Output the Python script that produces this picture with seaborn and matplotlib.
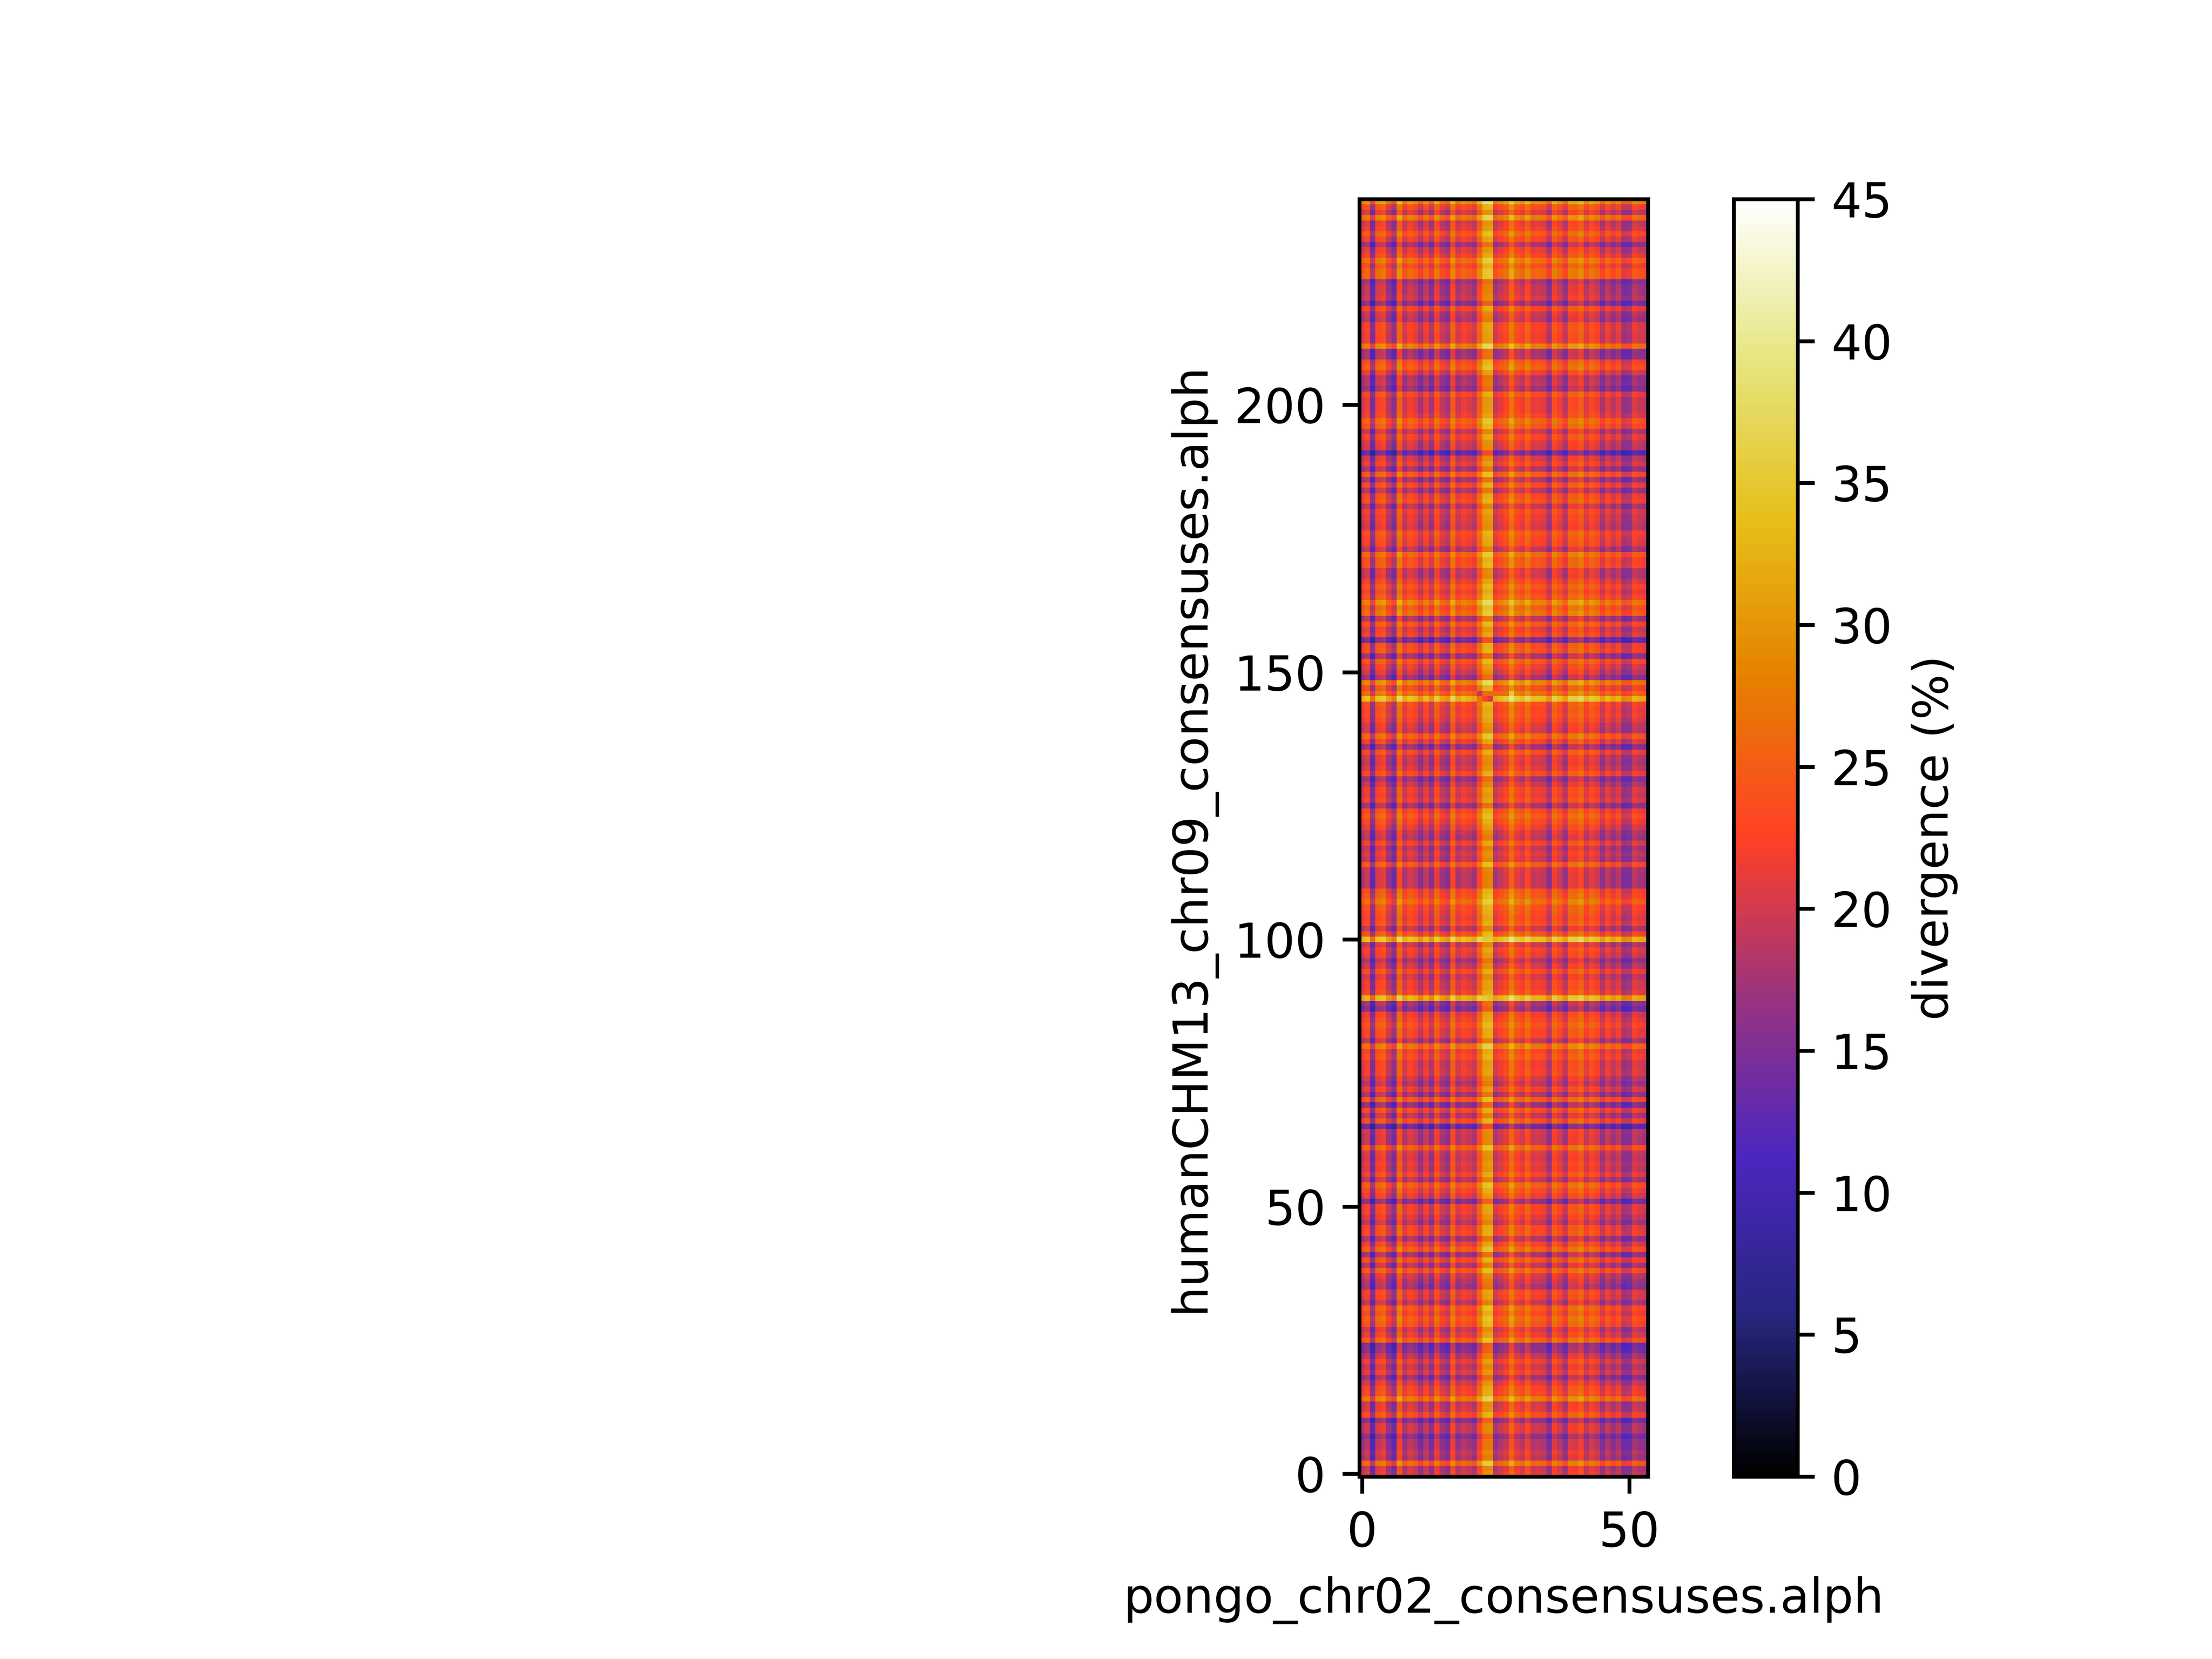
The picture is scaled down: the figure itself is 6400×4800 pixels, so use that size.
import numpy as np
import matplotlib
matplotlib.use("Agg")
import matplotlib.pyplot as plt
import seaborn as sns

x_label = "pongo_chr02_consensuses.alph"
y_label = "humanCHM13_chr09_consensuses.alph"
cbar_label = "divergence (%)"
cbar_ticks = [0, 5, 10, 15, 20, 25, 30, 35, 40, 45]

# typical divergence of each column, read off a neutral row
col_values = [
    20, 22, 15, 22.5, 23.5, 19, 16, 25.5, 20, 22.5,
    21, 18, 21.5, 18, 23.5, 19.5, 18, 25, 20, 22,
    21, 19.5, 25, 30.5, 31, 20, 21.5, 23, 27.5, 23.5,
    22, 25, 21.5, 22, 21.5, 18, 24, 22, 19, 24,
    23.5, 25.5, 21, 23.5, 22, 18.5, 21.5, 19, 21, 17,
    17.5, 21, 20, 19,
]

# how far each row sits above or below that, row 0 first
row_shift = [
    -1, -2, 4.5, -3, -2, -3.5, -3.5, -5.5, -2, -2,
    -5.5, 2, -1, -1.5, 6, 1.5, 1, -1, -4.5, -0.5,
    -2, 0, -2.5, -5.5, -6, 3.5, 0, -1.5, 2.5, 3.5,
    1.5, 3, -2.5, 0, 0.5, -4, -3, -1.5, 3, -2.5,
    2, -4, 3.5, 0.5, -3.5, 1.5, 1, -2.5, -1, 0.5,
    0.5, -5.5, 0, 1.5, 3.5, -2.5, 1, -1, -0.5, -1.5,
    -1, 3.5, -2, -2, -1.5, -8, 2, -2.5, 1.5, -5,
    3, -3.5, 0, -3, -1.5, 0.5, 0, 0, 2, 1,
    5.5, -2.5, 1, 1, 2.5, 1, 0, -6, -4, 11,
    1, 0, 0, -1.5, 1.5, -1.5, -3.5, -0.5, 0.5, -2,
    12, 2.5, -2, 1.5, 0.5, 1.5, 2, 5, 3, 2,
    -2.5, -2.5, -2.5, -2, 3, -2, -1, -2.5, 0.5, -3,
    -2, 0, 1.5, 3, 1.5, -4, 0.5, -0.5, 0, -2,
    -4.5, 1.5, -1, -2, -1.5, 1.5, -4.5, 0.5, 4, -1.5,
    -1, 0.5, 1.5, 1, 2, 12, 5, 2, 7, -4,
    -1.5, 0, 2.5, -4, 2, 1.5, -7, 0.5, -0.5, 2.5,
    -3, 5, 3.5, 7, 2.5, 1, 2.5, 0.5, -2, -1.5,
    2.5, 2, 4.5, -2.5, 0.5, 1, 2, -1.5, -1, -0.5,
    0.5, -2.5, 2, 1, -3, 1.5, -3.5, 3, -3.5, 0,
    -1.5, -8, -1.5, -1, 1, -2, 2.5, 4, 0.5, -0.5,
    -0.5, -0.5, 1.5, -4.5, -3, -3.5, 0, 3.5, 2, -4,
    -4, 6.5, 0, 0, 0.5, 0.5, -3, -2, 1, -5.5,
    -1.5, -2.5, -2.5, -4, 4, 4, 2, 5, 1, -0.5,
    -4, 0.5, 3, 0, -1, 6, -1, 2, 8,
]

# cells that do not follow their row and column: (row, col, value)
odd_cells = [
    (145, 22, 27), (145, 23, 23), (145, 24, 20),
    (146, 22, 19), (146, 23, 26), (146, 24, 26), (146, 25, 26), (146, 26, 26), (146, 27, 27),
    (146, 28, 35),
    (100, 23, 35), (100, 24, 35), (89, 23, 35), (89, 24, 34),
]

div = np.array(row_shift)[:, None] + np.array(col_values)[None, :]
for r, c, v in odd_cells:
    div[r, c] = v

fig, ax = plt.subplots(figsize=(6.4, 4.8))

sns.heatmap(div, cmap="CMRmap", vmin=0, vmax=45, square=True, ax=ax,
            xticklabels=50, yticklabels=50,
            cbar_kws={"label": cbar_label, "ticks": cbar_ticks})

ax.invert_yaxis()
ax.tick_params(axis="x", labelrotation=0)
ax.tick_params(axis="y", labelrotation=0)
plt.setp(ax.get_yticklabels(), va="center_baseline")
ax.set_xlabel(x_label)
ax.set_ylabel(y_label)

# heatmap strips the frames, the original has them
for s in ax.spines.values():
    s.set_visible(True)
cbar = ax.collections[0].colorbar
cbar.outline.set_linewidth(0.8)

fig.savefig("out.png", dpi=1000)
